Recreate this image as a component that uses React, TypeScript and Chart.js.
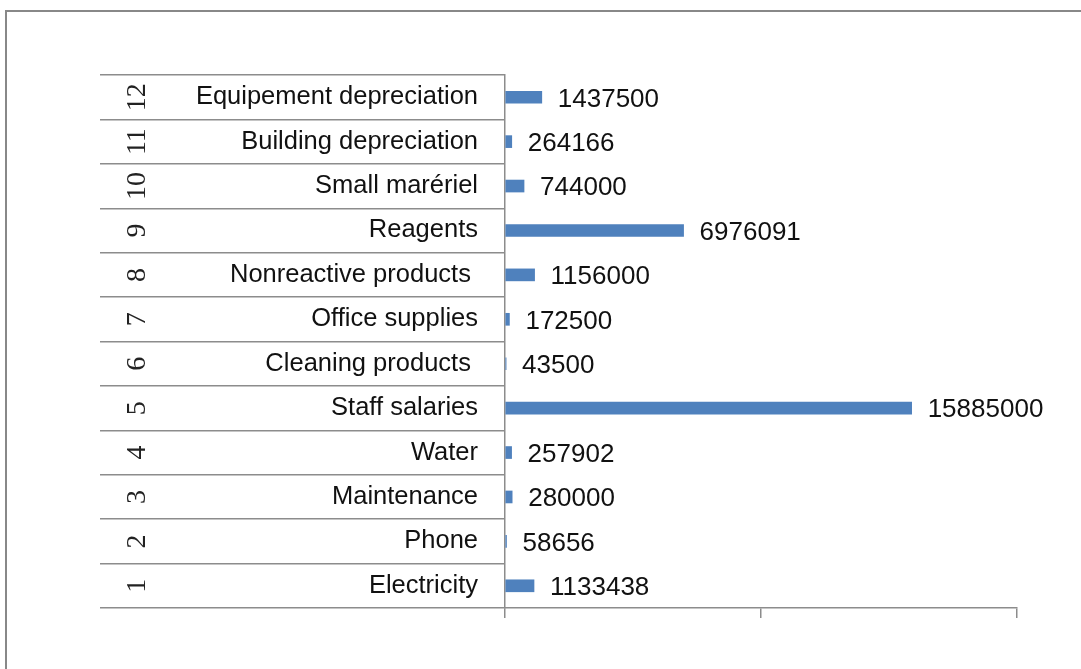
import React, { useEffect, useRef } from "react";
import { Chart, registerables } from "chart.js";

Chart.register(...registerables);

// Item numbers (outer category level, drawn rotated)
const itemNumbers = ["1", "2", "3", "4", "5", "6", "7", "8", "9", "10", "11", "12"];

// Category names (inner category level)
const categories = [
  "Electricity",
  "Phone",
  "Maintenance",
  "Water",
  "Staff salaries",
  "Cleaning products ",
  "Office supplies",
  "Nonreactive products ",
  "Reagents",
  "Small marériel",
  "Building depreciation",
  "Equipement depreciation",
];

// Costs
const values = [
  1133438, 58656, 280000, 257902, 15885000, 43500, 172500, 1156000, 6976091, 744000, 264166,
  1437500,
];

// Value axis range / tick step (no tick labels shown)
const axisMin = 0;
const axisMax = 20000000;
const axisStep = 10000000;

const LINE = "#8c8c8c";

export default function App() {
  const canvasRef = useRef<HTMLCanvasElement | null>(null);

  useEffect(() => {
    const canvas = canvasRef.current;
    if (!canvas) return;

    const framePlugin = {
      id: "frame",
      beforeDraw(chart: any) {
        const ctx = chart.ctx;
        ctx.save();
        ctx.fillStyle = "#ffffff";
        ctx.fillRect(0, 0, chart.width, chart.height);
        ctx.strokeStyle = "#888888";
        ctx.lineWidth = 2;
        ctx.beginPath();
        ctx.moveTo(6, chart.height);
        ctx.lineTo(6, 11);
        ctx.lineTo(chart.width, 11);
        ctx.stroke();
        ctx.restore();
      },
    };

    const outerLabelPlugin = {
      id: "outerLabels",
      afterDraw(chart: any) {
        const ctx = chart.ctx;
        const y = chart.scales.y;
        ctx.save();
        ctx.font = '28px "Liberation Serif"';
        ctx.fillStyle = "#222222";
        ctx.textAlign = "center";
        ctx.textBaseline = "alphabetic";
        itemNumbers.forEach((n, i) => {
          const py = y.getPixelForValue(i);
          ctx.save();
          ctx.translate(145, py);
          ctx.rotate(-Math.PI / 2);
          ctx.fillText(n, 0, 0);
          ctx.restore();
        });
        ctx.restore();
      },
    };

    const valueLabelPlugin = {
      id: "valueLabels",
      afterDatasetsDraw(chart: any) {
        const ctx = chart.ctx;
        const meta = chart.getDatasetMeta(0);
        const size = 26;
        ctx.save();
        ctx.font = `${size}px "Liberation Sans"`;
        ctx.fillStyle = "#111111";
        ctx.textAlign = "left";
        ctx.textBaseline = "alphabetic";
        meta.data.forEach((bar: any, i: number) => {
          ctx.fillText(String(values[i]), bar.x + 16, bar.y + size * 0.358);
        });
        ctx.restore();
      },
    };

    const chart = new Chart(canvas, {
      type: "bar",
      data: {
        labels: categories,
        datasets: [
          {
            data: values,
            backgroundColor: "#4F81BD",
            borderWidth: 0,
            barThickness: 12,
          },
        ],
      },
      options: {
        indexAxis: "y",
        responsive: false,
        animation: false,
        events: [],
        layout: { padding: { top: 75, right: 64, left: 0, bottom: 0 } },
        plugins: {
          legend: { display: false },
          tooltip: { enabled: false },
        },
        scales: {
          x: {
            type: "linear",
            min: axisMin,
            max: axisMax,
            ticks: { display: false, stepSize: axisStep },
            grid: {
              display: true,
              drawOnChartArea: false,
              drawTicks: true,
              tickLength: 10,
              color: LINE,
              lineWidth: 1.5,
            },
            border: { display: true, color: LINE, width: 1.5 },
            afterFit: (s: any) => {
              s.height = 61;
            },
          },
          y: {
            type: "category",
            reverse: true,
            ticks: {
              padding: -378,
              color: "#111111",
              font: { family: "Liberation Sans", size: 25.5 },
              autoSkip: false,
            },
            grid: {
              display: true,
              offset: true,
              drawOnChartArea: false,
              drawTicks: true,
              tickLength: 405,
              color: LINE,
              lineWidth: 1.5,
            },
            border: { display: true, color: LINE, width: 1.5 },
            afterFit: (s: any) => {
              s.width = 505;
            },
          },
        },
      } as any,
      plugins: [framePlugin, outerLabelPlugin, valueLabelPlugin],
    });

    return () => {
      chart.destroy();
    };
  }, []);

  return (
    <div
      style={{
        position: "absolute",
        left: 0,
        top: 0,
        width: 1081,
        height: 669,
        overflow: "hidden",
        background: "#fff",
      }}
    >
      <canvas
        ref={canvasRef}
        width={1081}
        height={669}
        style={{ display: "block", width: 1081, height: 669 }}
      />
    </div>
  );
}
